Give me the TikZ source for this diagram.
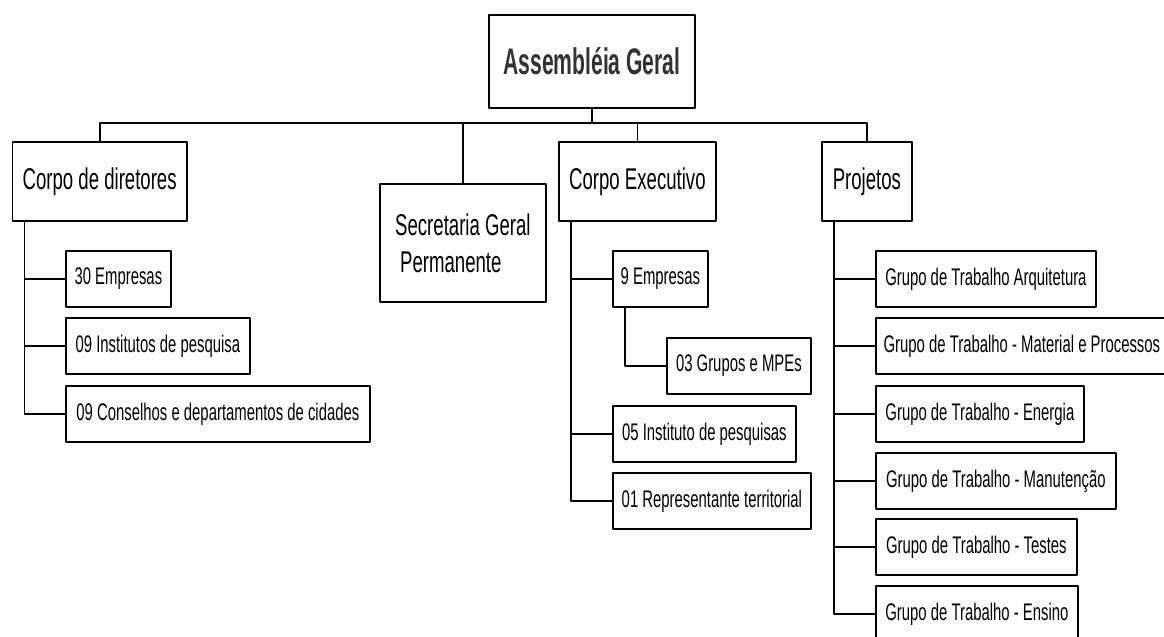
\documentclass[tikz,border=0pt]{standalone}
\usepackage{fontspec}
\setmainfont{Liberation Sans}[FakeStretch=0.62]
\newfontfamily\agfont{Liberation Sans}[FakeStretch=0.57]
\begin{document}
\begin{tikzpicture}[x=0.5pt,y=-0.5pt,line join=round,line width=0.9pt,
  box/.style={draw,rectangle,anchor=north west,align=left,inner xsep=2pt,inner ysep=0pt},
  big/.style={box,minimum height=39.5pt,font=\fontsize{15}{18.5}\selectfont},
  small/.style={box,minimum height=28pt,font=\fontsize{12}{14}\selectfont}]
\clip (0,0) rectangle (1164,637);
% topo
\node[box,anchor=center,minimum width=103pt,minimum height=46.5pt,text=black!80,
  font=\agfont\bfseries\fontsize{18.5}{22}\selectfont] (ag) at (592,61.5) {Assembléia Geral};
% primeiro nivel
\node[big,minimum width=87.25pt] (dir) at (11.5,141) {Corpo de diretores};
\node[big,minimum width=83pt,minimum height=59pt] (sec) at (379,183)
  {Secretaria Geral\\\hspace*{2.5pt}Permanente};
\node[big,minimum width=78.5pt] (exe) at (558,141) {Corpo Executivo};
\node[big,minimum width=45pt] (proj) at (821,141) {Projetos};
% diretores
\node[small,minimum width=52.5pt] (emp30) at (65,250) {30 Empresas};
\node[small,minimum width=92pt] (inst09) at (65,317) {09 Institutos de pesquisa};
\node[small,minimum width=152pt] (cons09) at (65,385) {09 Conselhos e departamentos de cidades};
% executivo
\node[small,minimum width=47.5pt] (emp9) at (612,250) {9 Empresas};
\node[small,minimum width=72pt] (grp03) at (666,337) {03 Grupos e MPEs};
\node[small,minimum width=91.5pt] (inst05) at (612,405) {05 Instituto de pesquisas};
\node[small,minimum width=99pt] (rep01) at (612,472) {01 Representante territorial};
% projetos
\node[small,minimum width=110pt] (gtarq) at (875,250) {Grupo de Trabalho Arquitetura};
\node[small,minimum width=146pt] (gtmat) at (875,317) {Grupo de Trabalho - Material e Processos};
\node[small,minimum width=104pt] (gtene) at (875,385) {Grupo de Trabalho - Energia};
\node[small,minimum width=120pt] (gtman) at (875,452) {Grupo de Trabalho - Manutenção};
\node[small,minimum width=100.5pt] (gttes) at (875,518) {Grupo de Trabalho - Testes};
\node[small,minimum width=101pt] (gtens) at (875,585) {Grupo de Trabalho - Ensino};
% ligacoes
\draw (ag.south) -- (ag.south |- 0,123) coordinate (bus);
\draw (dir.north) |- (bus) -| (proj.north);
\draw (sec.north) -- (sec.north |- bus);
\draw (exe.north) -- (exe.north |- bus);
\coordinate (dsp) at ([xshift=6.5pt]dir.south west);
\coordinate (esp) at ([xshift=6.5pt]exe.south west);
\coordinate (psp) at ([xshift=6.5pt]proj.south west);
\draw (dsp) |- (cons09.west);
\draw (esp) |- (rep01.west);
\draw (psp) |- (gtens.west);
\draw ([xshift=6.5pt]emp9.south west) |- (grp03.west);
\foreach \n in {emp30,inst09} \draw (\n.west) -- (\n.west -| dsp);
\foreach \n in {emp9,inst05} \draw (\n.west) -- (\n.west -| esp);
\foreach \n in {gtarq,gtmat,gtene,gtman,gttes} \draw (\n.west) -- (\n.west -| psp);
\end{tikzpicture}
\end{document}
